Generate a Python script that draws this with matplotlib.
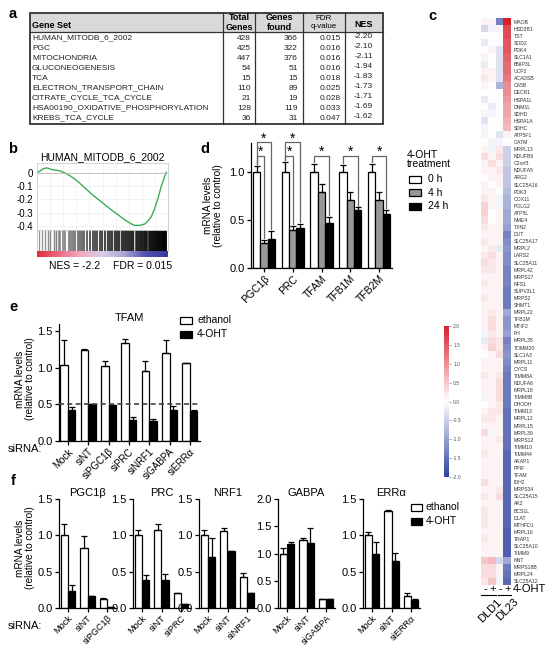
import numpy as np
import matplotlib
matplotlib.use('Agg')
import matplotlib.pyplot as plt
import matplotlib.ticker as ticker
from matplotlib.colors import LinearSegmentedColormap, Normalize
from matplotlib.patches import Rectangle

plt.rcParams['font.family'] = ['Liberation Sans', 'DejaVu Sans']

# ---------------- data ----------------
# panel a
gene_sets = ['HUMAN_MITODB_6_2002', 'PGC', 'MITOCHONDRIA', 'GLUCONEOGENESIS', 'TCA',
             'ELECTRON_TRANSPORT_CHAIN', 'CITRATE_CYCLE_TCA_CYCLE',
             'HSA00190_OXIDATIVE_PHOSPHORYLATION', 'KREBS_TCA_CYCLE']
total_genes = [428, 425, 447, 54, 15, 110, 21, 128, 36]
genes_found = [366, 322, 376, 51, 15, 89, 19, 119, 31]
fdr_q = ['0.015', '0.016', '0.016', '0.016', '0.018', '0.025', '0.028', '0.033', '0.047']
nes = ['-2.20', '-2.10', '-2.11', '-1.94', '-1.83', '-1.73', '-1.71', '-1.69', '-1.62']

# panel b (running enrichment score, rank in % of list)
es_rank = [0, 0.8, 5.1, 7.6, 11.4, 16.5, 21.5, 26.6, 31.6, 36.7, 41.8, 46.8, 51.9, 57.0,
           62.0, 67.1, 72.2, 74.7, 78.5, 82.3, 84.8, 87.3, 89.9, 92.4, 94.9, 97.5, 98.7]
es_val = [0, 0.005, 0.033, 0.038, 0.025, 0.018, 0.0, -0.03, -0.068, -0.114, -0.16, -0.2,
          -0.24, -0.28, -0.316, -0.354, -0.385, -0.395, -0.395, -0.385, -0.36, -0.33,
          -0.266, -0.19, -0.10, -0.025, 0.005]
hit_rank = [1.8, 3.8, 6.3, 8.4, 10.1, 12.7, 14.4, 16.5, 17.7, 19.5, 21.5, 24.1, 25.8, 27.3,
            29.1, 31.1, 32.9, 34.7, 36.2, 38.0, 40.5, 43.0, 44.3, 45.6, 48.1, 49.9, 51.9,
            54.4, 55.7, 57.5, 59.5, 60.8, 62.5, 64.6, 66.6, 67.5, 68.4, 70.1, 71.6, 72.5,
            73.4, 75.2, 76.7, 77.6, 78.5, 80.3, 81.8, 82.7, 83.5, 85.3, 86.8, 87.7, 88.6,
            90.4, 91.9, 92.8, 93.7, 95.4, 97.0, 98.0]

# panel c heatmap
heat_genes = ['MAOB', 'HSD3B1', 'TST', 'SOD2', 'PDK4', 'SLC1A1', 'BNIP3L', 'UCP2', 'ACADSB',
              'CA5B', 'DECR1', 'HSPA1L', 'DNM1L', 'SDHD', 'HSPA1A', 'SDHC', 'ATP5F1', 'GATM',
              'MRPL13', 'NDUFB6', 'C2orf3', 'NDUFA5', 'ARG2', 'SLC25A16', 'PDK3', 'COX11',
              'POLG2', 'ATP5L', 'NME4', 'TXN2', 'DUT', 'SLC25A17', 'MRPL2', 'LARS2',
              'SLC25A11', 'MRPL42', 'MRPS17', 'NFS1', 'SUPV3L1', 'MRPS2', 'SHMT1', 'MRPL22',
              'TFB1M', 'MTIF2', 'FH', 'MRPL35', 'TOMM20', 'SLC1A3', 'MRPL11', 'CYCS',
              'TIMM8A', 'NDUFA6', 'MRPL18', 'TIMM8B', 'DHODH', 'TIMM13', 'MRPL12', 'MRPL15',
              'MRPL39', 'MRPS12', 'TIMM10', 'TIMM44', 'AKAP1', 'PPIF', 'TFAM', 'IDH2',
              'MRPS34', 'SLC25A15', 'AK2', 'BCS1L', 'DLAT', 'MTHFD1', 'MRPL16', 'TRAP1',
              'SLC25A10', 'TIMM9', 'NNT', 'MRPS18B', 'MRPL24', 'SLC25A12']
dld1_minus = [0.1, -0.4, 0, -0.2, 0, 0.1, -0.2, 0.1, 0.2, 0.1, 0, -0.2, 0, 0.1, -0.3, -0.1,
              0.1, 0, 0.1, 0.3, 0.1, 0.1, 0, 0.1, 0.1, 0.2, 0.4, 0.4, 0.3, 0.2, 0.1, 0.2,
              0.1, 0.2, 0.3, 0.2, 0.1, 0.2, 0.1, 0.2, 0.1, 0.1, 0.1, 0.1, -0.1, -0.2, 0.1, 0,
              0.1, 0.1, 0.2, 0.1, 0.1, -0.1, 0, 0.1, 0.2, 0.1, 0.3, 0.1, 0.1, 0.2, 0.1, 0.1,
              0.1, 0.3, 0.1, 0.2, 0.1, 0.2, 0.2, 0.2, 0.1, 0.2, 0.1, 0.1, 0.5, 0.3, 0.3, 0.2]
dld1_plus = [0.1, -0.1, 0, 0, 0.1, 0, 0, 0.1, 0.1, 0, 0, 0, -0.2, -0.1, 0, 0, 0, -0.1,
             -0.1, 0.1, 0.3, 0.1, 0.1, 0, 0.1, 0.1, 0.1, 0, 0, 0.1, 0.1, 0.1, 0.2, 0.3, 0.2,
             0.2, 0.1, 0.1, 0.1, 0.1, 0.1, 0.2, 0.3, 0.3, 0.2, 0.3, 0.4, 0.1, 0.1, 0.1, 0.1,
             0.1, 0.1, 0.1, 0.1, 0.2, 0.2, 0.1, -0.1, 0.1, 0.1, 0.1, 0.1, 0.1, 0.1, 0.1,
             0.1, 0.1, 0.1, 0.1, 0.1, 0.1, 0.1, 0.1, 0.1, 0.1, 0.6, 0.3, 0.3, 0.5]
dl23_minus = [-1.3, -0.1, 0, 0, -0.3, -0.3, -0.3, -0.3, -0.3, -0.8, 0, 0, 0, 0, 0, 0, -0.3,
              -0.1, 0.2, 0.3, 0.1, 0.2, 0.1, 0.1, 0, -0.1, -0.1, 0.1, 0.1, 0.1, 0.1, 0.1,
              -0.2, 0.1, 0.1, 0.1, 0.1, 0.1, 0.1, 0.1, 0.1, 0.1, 0.1, 0.1, 0.1, 0.2, 0.2,
              0.3, 0.1, 0.1, 0.2, 0.3, 0.3, 0.3, 0.2, 0.2, 0.1, 0.1, 0.1, 0.2, 0.1, 0.1, 0.1,
              0.1, 0.1, 0.1, 0.2, 0.3, 0.1, 0.1, 0.1, 0.1, 0.1, 0.1, 0.1, 0.1, -0.4, 0.1,
              0.1, -0.1]
dl23_plus = [2.0, 1.6, 1.6, 1.5, 1.5, 1.4, 1.3, 1.3, 1.2, 1.0, 1.0, 0.9, 0.8, 0.8, 0.7, 0.6,
             0.1, 0.0, -0.5, -0.5, -0.5, -0.6, -0.6, -0.6, -0.7, -0.8, -0.8, -0.9, -0.9,
             -1.0, -1.3, -1.2, -1.1, -1.2, -1.2, -1.3, -1.3, -1.3, -1.4, -1.4, -1.4, -0.9,
             -1.1, -1.1, -1.0, -1.3, -1.2, -1.1, -1.2, -1.3, -1.4, -1.4, -1.4, -1.4, -1.4,
             -1.5, -1.5, -1.5, -1.5, -1.5, -1.5, -1.6, -1.6, -1.6, -1.6, -1.6, -1.6, -1.6,
             -1.6, -1.6, -1.6, -1.6, -1.7, -1.7, -1.7, -1.7, -0.9, -1.4, -1.5, -1.6]

# panel d
d_genes = ['PGC1β', 'PRC', 'TFAM', 'TFB1M', 'TFB2M']
d_0h = [1.0, 1.0, 1.0, 1.0, 1.0]
d_0h_err = [0.06, 0.10, 0.08, 0.07, 0.08]
d_4h = [0.26, 0.40, 0.79, 0.71, 0.71]
d_4h_err = [0.03, 0.035, 0.08, 0.08, 0.08]
d_24h = [0.30, 0.42, 0.47, 0.60, 0.56]
d_24h_err = [0.09, 0.04, 0.06, 0.03, 0.04]
# (gene, bar from, bar to, bracket height)
d_sig = [(0, 0, 1, 1.17), (0, 0, 2, 1.31), (1, 0, 1, 1.17), (1, 0, 2, 1.31),
         (2, 0, 2, 1.17), (3, 0, 2, 1.17), (4, 0, 2, 1.17)]

# panel e
e_sirna = ['Mock', 'siNT', 'siPGC1β', 'siPRC', 'siNRF1', 'siGABPA', 'siERRα']
e_eth = [1.04, 1.25, 1.02, 1.34, 0.96, 1.21, 1.06]
e_eth_err = [0.34, 0.01, 0.08, 0.05, 0.14, 0.17, 0.0]
e_oht = [0.43, 0.51, 0.49, 0.29, 0.27, 0.42, 0.41]
e_oht_err = [0.03, 0.0, 0.0, 0.04, 0.03, 0.06, 0.01]

# panel f
f_titles = ['PGC1β', 'PRC', 'NRF1', 'GABPA', 'ERRα']
f_sirna = [['Mock', 'siNT', 'siPGC1β'], ['Mock', 'siNT', 'siPRC'], ['Mock', 'siNT', 'siNRF1'],
           ['Mock', 'siNT', 'siGABPA'], ['Mock', 'siNT', 'siERRα']]
f_eth = [[1.01, 0.83, 0.13], [1.0, 1.07, 0.20], [1.0, 1.06, 0.42], [1.0, 1.25, 0.16],
         [1.0, 1.34, 0.17]]
f_eth_err = [[0.15, 0.16, 0.01], [0.07, 0.08, 0.01], [0.07, 0.04, 0.06], [0.11, 0.04, 0.01],
             [0.04, 0.01, 0.03]]
f_oht = [[0.24, 0.16, 0.015], [0.39, 0.39, 0.055], [0.70, 0.78, 0.21], [1.17, 1.20, 0.16],
         [0.75, 0.64, 0.11]]
f_oht_err = [[0.08, 0.01, 0.0], [0.06, 0.08, 0.0], [0.26, 0.01, 0.0], [0.05, 0.26, 0.0],
             [0.16, 0.12, 0.01]]
f_ymax = [1.5, 1.5, 1.5, 2.0, 1.5]

# ---------------- helpers ----------------
W, H = 554, 648


def add_ax(fig, left, top, right, bottom):
    return fig.add_axes([left / W, 1 - bottom / H, (right - left) / W, (bottom - top) / H])


def style_bar_ax(ax):
    ax.patch.set_visible(False)
    for s in ('top', 'right'):
        ax.spines[s].set_visible(False)
    for s in ('left', 'bottom'):
        ax.spines[s].set_linewidth(0.9)
    ax.tick_params(axis='both', direction='out', length=3, width=0.9, pad=1.5)
    ax.tick_params(axis='y', labelsize=8)
    ax.tick_params(axis='x', labelsize=7, pad=1)
    ax.yaxis.set_major_formatter(ticker.FormatStrFormatter('%.1f'))


def draw_bars(ax, series, errs, colors, width):
    n = len(series)
    x = np.arange(len(series[0]))
    centres = []
    for i, (vals, er, c) in enumerate(zip(series, errs, colors)):
        pos = x + (i - (n - 1) / 2) * width
        centres.append(pos)
        ax.bar(pos, vals, width, color=c, edgecolor='black', linewidth=0.9, zorder=2)
        ax.errorbar(pos, vals, yerr=[np.zeros(len(vals)), er], fmt='none', ecolor='black',
                    elinewidth=0.9, capsize=2, capthick=0.9, zorder=3)
    return centres


def rot_labels(ax, labels):
    ax.set_xticklabels(labels, rotation=45, ha='right', rotation_mode='anchor')


fig = plt.figure(figsize=(W / 100, H / 100), dpi=100)

ov = fig.add_axes([0, 0, 1, 1])
ov.set_xlim(0, W)
ov.set_ylim(H, 0)
ov.axis('off')

for lab, (px, py) in zip('abcdef', [(13, 14), (13, 149), (432, 16), (205, 149), (13, 307),
                                    (13, 481)]):
    ov.text(px, py, lab, fontsize=10.5, fontweight='bold', ha='center', va='center')

# ---------------- a: table ----------------
tl, tr, tt, tb = 30, 383, 13, 124
hb = 32
ov.add_patch(Rectangle((tl, tt), tr - tl, hb - tt, facecolor='#d9d9d9', edgecolor='none'))
ov.add_patch(Rectangle((tl, tt), tr - tl, tb - tt, facecolor='none', edgecolor='#333333',
                       linewidth=1.3))
ov.plot([tl, tr], [hb, hb], color='#333333', lw=0.9)
for xv in (223, 255, 303, 345):
    ov.plot([xv, xv], [tt, tb], color='#333333', lw=0.9)
ov.text(32, 30, 'Gene Set', fontsize=6.5, fontweight='bold', ha='left', va='bottom')
ov.text(239, 22.5, 'Total\nGenes', fontsize=6.5, fontweight='bold', ha='center', va='center',
        linespacing=1.0)
ov.text(279, 22.5, 'Genes\nfound', fontsize=6.5, fontweight='bold', ha='center', va='center',
        linespacing=1.0)
ov.text(324, 22.5, 'FDR\nq-value', fontsize=5.8, ha='center', va='center', linespacing=1.0)
ov.text(364, 29, 'NES', fontsize=6.5, fontweight='bold', ha='center', va='bottom')
for i in range(len(gene_sets)):
    yy = 38 + i * 10
    ov.text(32, yy, gene_sets[i], fontsize=6, ha='left', va='center', color='#222222')
    ov.text(251, yy, str(total_genes[i]), fontsize=6, ha='right', va='center', color='#222222')
    ov.text(298, yy, str(genes_found[i]), fontsize=6, ha='right', va='center', color='#222222')
    ov.text(341, yy, fdr_q[i], fontsize=6, ha='right', va='center', color='#222222')
    ov.text(373, yy - 2, nes[i], fontsize=6, ha='right', va='center', color='#222222')

# ---------------- b: GSEA ----------------
axb = add_ax(fig, 37, 163, 168, 230)
axb.plot(es_rank, es_val, color='#3cac58', lw=1.0)
axb.axhline(0, color='#bbbbbb', lw=0.6)
axb.set_xlim(0, 100)
axb.set_ylim(-0.43, 0.075)
axb.set_yticks([0, -0.1, -0.2, -0.3, -0.4])
axb.set_yticklabels(['0', '-0.1', '-0.2', '-0.3', '-0.4'])
axb.tick_params(axis='y', length=0, labelsize=7, pad=3)
axb.grid(True, color='#eeeeee', lw=0.5)
axb.xaxis.set_major_locator(ticker.MultipleLocator(10))
axb.tick_params(axis='x', length=0, labelbottom=False)
for s in axb.spines.values():
    s.set_color('#cccccc')
    s.set_linewidth(0.6)
axb.set_title('HUMAN_MITODB_6_2002', fontsize=7.5, pad=2)

axbc = add_ax(fig, 37, 230, 168, 251)
shade = [str(0.6 * (1 - r / 100)) for r in hit_rank]
axbc.vlines(hit_rank, 0, 1, colors=shade, lw=[0.9 + 1.2 * r / 100 for r in hit_rank])
axbc.set_xlim(0, 100)
axbc.set_ylim(0, 1)
axbc.set_xticks([])
axbc.set_yticks([])
for s in axbc.spines.values():
    s.set_color('#cccccc')
    s.set_linewidth(0.6)

axcs = add_ax(fig, 37, 251, 168, 257)
strip = LinearSegmentedColormap.from_list(
    'strip', ['#e42a3c', '#ec6c84', '#f1a9c0', '#d6cde6', '#a9a6d6', '#4f4fb0', '#3a3aa2'])
axcs.imshow(np.linspace(0, 1, 200)[None, :], aspect='auto', cmap=strip,
            extent=[0, 100, 0, 1])
axcs.axis('off')
ov.text(75, 266, 'NES = -2.2', fontsize=7.5, ha='center', va='center')
ov.text(143, 266, 'FDR = 0.015', fontsize=7.5, ha='center', va='center')

# ---------------- d ----------------
axd = add_ax(fig, 251, 143, 392, 268)
cd = draw_bars(axd, [d_0h, d_4h, d_24h], [d_0h_err, d_4h_err, d_24h_err],
               ['white', '#999999', 'black'], 0.255)
tops = [np.array(d_0h) + d_0h_err, np.array(d_4h) + d_4h_err, np.array(d_24h) + d_24h_err]
for g, b0, b1, h in d_sig:
    x0, x1 = cd[b0][g], cd[b1][g]
    axd.plot([x0, x0, x1, x1], [tops[b0][g] + 0.02, h, h, tops[b1][g] + 0.02],
             color='#666666', lw=0.9, clip_on=False)
    axd.text((x0 + x1) / 2, h - 0.035, '*', fontsize=10, ha='center', va='bottom')
axd.set_xlim(-0.45, 4.45)
axd.set_ylim(0, 1.3)
axd.set_yticks([0, 0.5, 1.0])
axd.set_xticks(range(len(d_genes)))
style_bar_ax(axd)
axd.tick_params(axis='x', labelsize=7.5)
rot_labels(axd, d_genes)
axd.set_ylabel('mRNA levels\n(relative to control)', fontsize=7.2, linespacing=1.0)
axd.yaxis.set_label_coords(-0.2, 0.5)

ov.text(407, 155, '4-OHT', fontsize=7.5, ha='left', va='center')
ov.text(407, 164, 'treatment', fontsize=7.5, ha='left', va='center')
for k, (lab, c) in enumerate(zip(['0 h', '4 h', '24 h'], ['white', '#999999', 'black'])):
    yy = 179 + k * 13.5
    ov.add_patch(Rectangle((409, yy - 3.5), 12, 7, facecolor=c, edgecolor='black', lw=0.9))
    ov.text(428, yy, lab, fontsize=7.5, ha='left', va='center')

# ---------------- e ----------------
axe = add_ax(fig, 59, 324, 200, 441)
draw_bars(axe, [e_eth, e_oht], [e_eth_err, e_oht_err], ['white', 'black'], 0.37)
axe.axhline(0.5, color='#444444', lw=1.2, ls=(0, (3, 2)), zorder=4)
axe.set_xlim(-0.44, 6.5)
axe.set_ylim(0, 1.6)
axe.set_yticks([0, 0.5, 1.0, 1.5])
axe.set_xticks(range(len(e_sirna)))
style_bar_ax(axe)
rot_labels(axe, e_sirna)
axe.set_title('TFAM', fontsize=8, pad=2)
axe.set_ylabel('mRNA levels\n(relative to control)', fontsize=7.2, linespacing=1.0)
axe.yaxis.set_label_coords(-0.17, 0.53)
ov.text(8, 449, 'siRNA:', fontsize=8, ha='left', va='center')
for k, (lab, c) in enumerate(zip(['ethanol', '4-OHT'], ['white', 'black'])):
    yy = 320 + k * 14
    ov.add_patch(Rectangle((180, yy - 3.5), 12, 7, facecolor=c, edgecolor='black', lw=0.9))
    ov.text(197, yy, lab, fontsize=7.5, ha='left', va='center')

# ---------------- f ----------------
f_lefts = [59, 133, 199, 278, 363]
for j in range(5):
    axf = add_ax(fig, f_lefts[j], 499, f_lefts[j] + 57, 608)
    draw_bars(axf, [f_eth[j], f_oht[j]], [f_eth_err[j], f_oht_err[j]],
              ['white', 'black'], 0.37)
    axf.set_xlim(-0.46, 2.46)
    axf.set_ylim(0, f_ymax[j])
    axf.set_yticks(np.arange(0, f_ymax[j] + 0.01, 0.5))
    axf.set_xticks(range(3))
    style_bar_ax(axf)
    axf.tick_params(axis='x', labelsize=6.6)
    rot_labels(axf, f_sirna[j])
    axf.set_title(f_titles[j], fontsize=8, pad=2)
    if j == 0:
        axf.set_ylabel('mRNA levels\n(relative to control)', fontsize=7.2, linespacing=1.0)
        axf.yaxis.set_label_coords(-0.42, 0.55)
ov.text(8, 626, 'siRNA:', fontsize=8, ha='left', va='center')
for k, (lab, c) in enumerate(zip(['ethanol', '4-OHT'], ['white', 'black'])):
    yy = 507 + k * 14
    ov.add_patch(Rectangle((411, yy - 3.5), 11, 7, facecolor=c, edgecolor='black', lw=0.9))
    ov.text(426, yy, lab, fontsize=7.5, ha='left', va='center')

# ---------------- c: heatmap ----------------
heat_cmap = LinearSegmentedColormap.from_list('bwr_c', ['#2f43a0', '#ffffff', '#d8202c'])
norm = Normalize(vmin=-2, vmax=2)
heat = np.array([dld1_minus, dld1_plus, dl23_minus, dl23_plus]).T
axh = add_ax(fig, 481, 18, 511, 585)
axh.imshow(heat, aspect='auto', cmap=heat_cmap, norm=norm, interpolation='nearest')
axh.set_xticks([])
axh.set_yticks(range(len(heat_genes)))
axh.set_yticklabels(heat_genes, fontsize=3.7, color='#333333')
axh.yaxis.tick_right()
axh.tick_params(axis='y', length=0, pad=2)
for s in axh.spines.values():
    s.set_visible(False)

for xv, sg in zip([485, 492.5, 500, 507.5], ['-', '+', '-', '+']):
    ov.text(xv, 589, sg, fontsize=8, ha='center', va='center')
ov.text(513, 589, '4-OHT', fontsize=8, ha='left', va='center')
ov.plot([481, 496], [594.5, 594.5], color='black', lw=0.8)
ov.plot([498, 511], [594.5, 594.5], color='black', lw=0.8)
ov.text(497, 597, 'DLD1', fontsize=8, rotation=45, ha='right', va='top',
        rotation_mode='anchor')
ov.text(513, 597, 'DL23', fontsize=8, rotation=45, ha='right', va='top',
        rotation_mode='anchor')

cax = add_ax(fig, 444, 326, 449, 477)
cb = fig.colorbar(plt.cm.ScalarMappable(norm=norm, cmap=heat_cmap), cax=cax)
cb.outline.set_visible(False)
cb.set_ticks(np.arange(-2, 2.01, 0.5))
cb.ax.yaxis.set_major_formatter(ticker.FormatStrFormatter('%.1f'))
cb.ax.tick_params(labelsize=3.6, length=1.5, width=0.4, colors='#555555', pad=1.5)

fig.savefig('out.png', dpi=100)
